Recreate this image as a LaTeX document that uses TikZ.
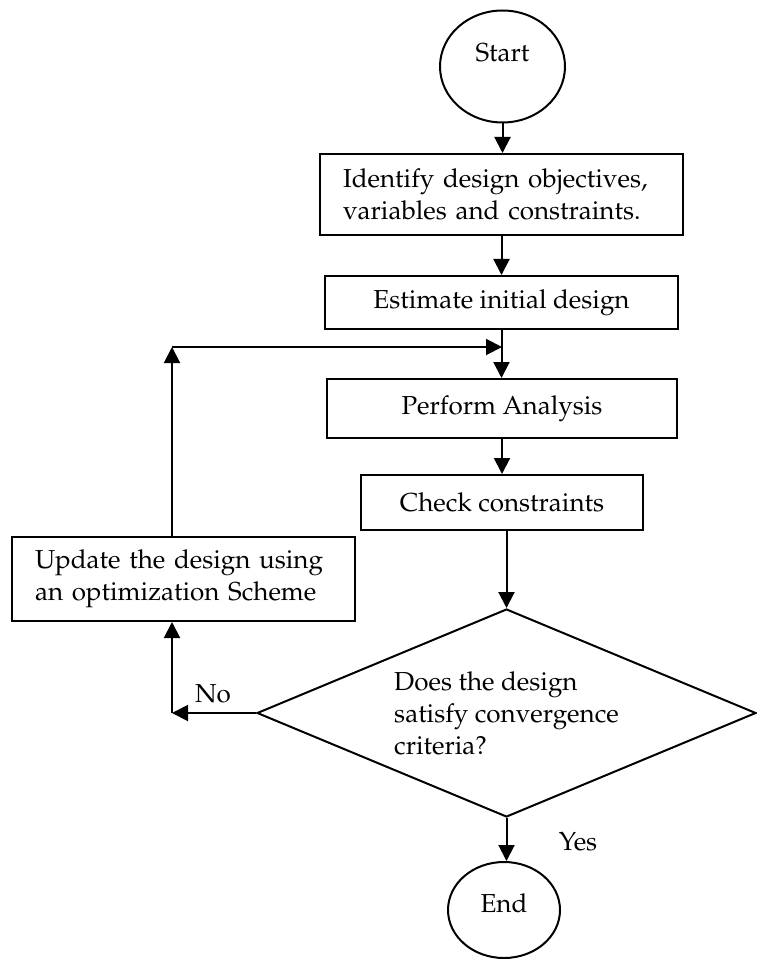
\documentclass[tikz,border=0pt]{standalone}
\usepackage[T1]{fontenc}
\usepackage{mathpazo}
\usepackage{tikz}
\usetikzlibrary{shapes.geometric}
\usetikzlibrary{arrows.meta}

\begin{document}
\begin{tikzpicture}[x=0.75pt,y=-0.75pt,
    every node/.style={font=\fontsize{19.5}{24}\selectfont},
    box/.style={draw,line width=1.5pt,rectangle,inner sep=0pt},
    term/.style={draw,line width=1.5pt,ellipse,inner sep=0pt,text height=0pt,text depth=0pt},
    arr/.style={line width=1.5pt,-{Triangle[length=12pt,width=12pt]}}]
\useasboundingbox (0,0) rectangle (756,962);
% main column
\node[term,minimum width=93.75pt,minimum height=84pt] (start) at (502.5,66.5) {\raisebox{3.4pt}{Start}};
\node[box,minimum width=272.25pt,minimum height=60.75pt,text width=237.75pt,align=left] (ident) at (501.5,194.5)
    {Identify design objectives,\\ variables and constraints.};
\node[box,minimum width=264.75pt,minimum height=39.75pt] (est) at (501.5,302.5) {Estimate initial design};
\node[box,minimum width=262.5pt,minimum height=44.25pt] (perf) at (502,408.5) {Perform Analysis};
\node[box,minimum width=211.5pt,minimum height=41.25pt] (check) at (502,502.5) {Check constraints};
\node[draw,line width=1.5pt,diamond,aspect=2.4,inner sep=0pt,minimum width=374.25pt,minimum height=156pt,align=left] (dec) at (506.5,713)
    {Does the design\\ satisfy convergence\\ criteria?};
\node[term,minimum width=84pt,minimum height=72pt] (stop) at (504,910) {\raisebox{-1.5pt}{End}};
% loop back
\node[box,minimum width=257.25pt,minimum height=63pt,text width=222.75pt,align=left] (upd) at (183.5,579)
    {Update the design using\\ an optimization Scheme};
\coordinate (join) at (502,347);
\coordinate (upb) at (172,347);
\coordinate (nob) at (upb |- dec.west);

\draw[arr] (start.south) -- (start.south |- ident.north);
\draw[arr] (ident.south) -- (ident.south |- est.north);
\draw[arr] (est.south) -- (est.south |- perf.north);
\draw[arr] (perf.south) -- (perf.south |- check.north);
\draw[arr] (check.south -| dec.north) -- (dec.north);
\draw[arr] (dec.south) -- (dec.south |- stop.north);
\draw[arr] (dec.west) -- (nob);
\draw[arr] (nob) -- (nob |- upd.south);
\draw[arr] (upb |- upd.north) -- (upb);
\draw[arr] (upb) -- (join);

\node (nolab) at (213,694) {No};
\node (yeslab) at (578,842) {Yes};
\end{tikzpicture}
\end{document}
